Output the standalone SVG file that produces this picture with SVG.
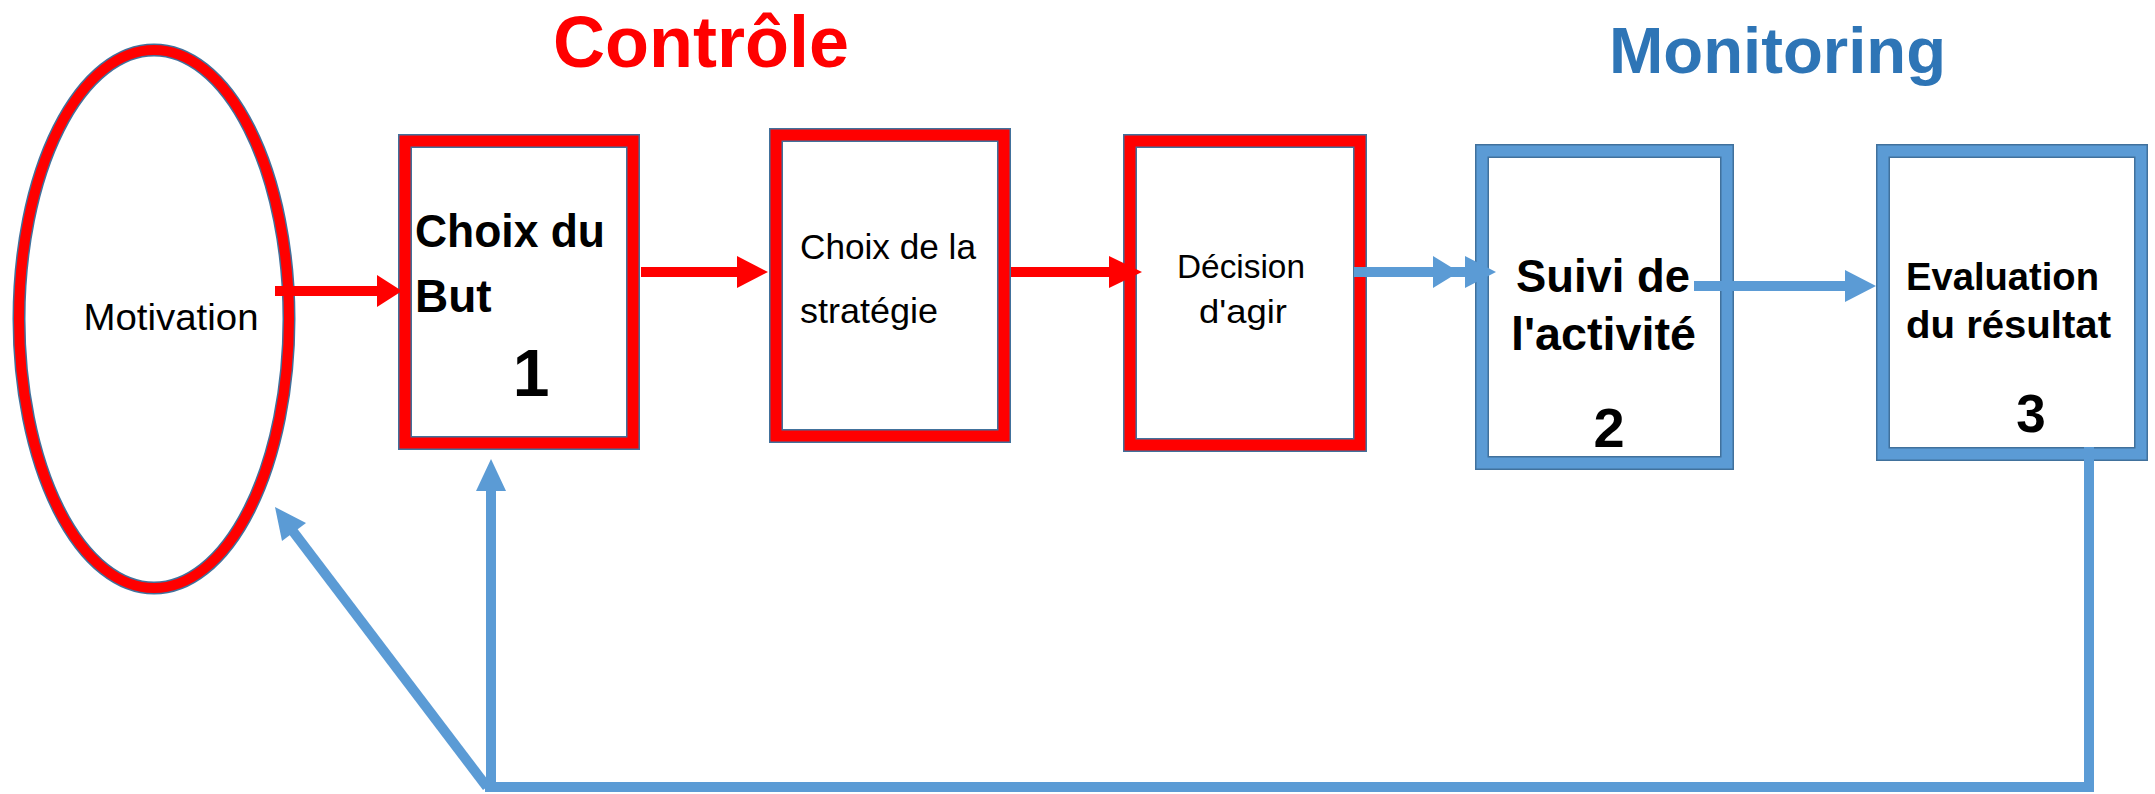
<svg xmlns="http://www.w3.org/2000/svg" width="2155" height="794" viewBox="0 0 2155 794">
<style>
.edge{fill:#fff;stroke:#41719C;stroke-width:14}
.red{fill:none;stroke:#FF0000;stroke-width:11}
.blue{fill:none;stroke:#5B9BD5;stroke-width:11}
.t{font-family:"Liberation Sans",Arial,sans-serif;fill:#000}
.b{font-weight:bold}
.rl{stroke:#FF0000;stroke-width:10;fill:none}
.bl{stroke:#5B9BD5;stroke-width:10;fill:none}
.rh{fill:#FF0000}
.bh{fill:#5B9BD5}
</style>
<rect width="2155" height="794" fill="#fff"/>
<text class="t b" x="553" y="67" font-size="72" style="fill:#FF0000" textLength="296" lengthAdjust="spacingAndGlyphs">Contrôle</text>
<text class="t b" x="1609" y="73" font-size="64" style="fill:#2E75B6" textLength="337" lengthAdjust="spacingAndGlyphs">Monitoring</text>

<g id="motivation">
<ellipse cx="154" cy="319" rx="135" ry="269" fill="#fff" stroke="#41719C" stroke-width="13"/>
<ellipse cx="154" cy="319" rx="135" ry="269" fill="none" stroke="#FF0000" stroke-width="10"/>
<text class="t" x="171" y="330" font-size="36" text-anchor="middle" textLength="175" lengthAdjust="spacingAndGlyphs">Motivation</text>
</g>

<g id="choix-but">
<rect class="edge" x="405" y="141" width="228" height="302"/>
<rect class="red" x="405" y="141" width="228" height="302"/>
<text class="t b" x="415" y="247" font-size="46" textLength="190" lengthAdjust="spacingAndGlyphs">Choix du</text>
<text class="t b" x="415" y="312" font-size="46">But</text>
<text class="t b" x="531" y="396" font-size="66" text-anchor="middle">1</text>
</g>

<g id="choix-strategie">
<rect class="edge" x="776" y="135" width="228" height="301"/>
<rect class="red" x="776" y="135" width="228" height="301"/>
<text class="t" x="800" y="259" font-size="35" textLength="176" lengthAdjust="spacingAndGlyphs">Choix de la</text>
<text class="t" x="800" y="323" font-size="35" textLength="138" lengthAdjust="spacingAndGlyphs">stratégie</text>
</g>

<g id="decision">
<rect class="edge" x="1130" y="141" width="230" height="304"/>
<rect class="red" x="1130" y="141" width="230" height="304"/>
<text class="t" x="1241" y="278" font-size="34" text-anchor="middle" textLength="128" lengthAdjust="spacingAndGlyphs">Décision</text>
<text class="t" x="1243" y="323" font-size="34" text-anchor="middle" textLength="88" lengthAdjust="spacingAndGlyphs">d'agir</text>
</g>

<g id="suivi">
<rect class="edge" x="1482" y="151" width="245" height="312"/>
<rect class="blue" x="1482" y="151" width="245" height="312"/>
<text class="t b" x="1516" y="292" font-size="46" textLength="174" lengthAdjust="spacingAndGlyphs">Suivi de</text>
<text class="t b" x="1511" y="350" font-size="46" textLength="185" lengthAdjust="spacingAndGlyphs">l'activité</text>
<text class="t b" x="1609" y="447" font-size="56" text-anchor="middle">2</text>
</g>

<g id="evaluation">
<rect class="edge" x="1883" y="151" width="258" height="303"/>
<rect class="blue" x="1883" y="151" width="258" height="303"/>
<text class="t b" x="1906" y="290" font-size="38" textLength="193" lengthAdjust="spacingAndGlyphs">Evaluation</text>
<text class="t b" x="1906" y="338" font-size="38" textLength="205" lengthAdjust="spacingAndGlyphs">du résultat</text>
<text class="t b" x="2031" y="432" font-size="53" text-anchor="middle">3</text>
</g>

<g id="connectors">
<line class="rl" x1="275" y1="291" x2="380" y2="291"/>
<polygon class="rh" points="377,275 402,291 377,307"/>
<line class="rl" x1="641" y1="272" x2="740" y2="272"/>
<polygon class="rh" points="737,256 768,272 737,288"/>
<line class="rl" x1="1011" y1="272" x2="1111" y2="272"/>
<polygon class="rh" points="1109,256 1142,272 1109,288"/>
<line class="bl" x1="1354" y1="272" x2="1470" y2="272"/>
<polygon class="bh" points="1433,256 1459,272 1433,288"/>
<polygon class="bh" points="1465,256 1496,272 1465,288"/>
<line class="bl" x1="1694" y1="286" x2="1848" y2="286"/>
<polygon class="bh" points="1845,270 1876,286 1845,302"/>
<line class="bl" x1="2089" y1="447" x2="2089" y2="792" stroke-width="9"/>
<line class="bl" x1="485" y1="787" x2="2093" y2="787"/>
<line class="bl" x1="491" y1="790" x2="491" y2="489" stroke-width="8"/>
<polygon class="bh" points="476,491 491,459 506,491"/>
<line class="bl" x1="487" y1="787" x2="292" y2="530" stroke-width="8"/>
<polygon class="bh" points="306,523 275,507 282,541"/>
</g>
</svg>
